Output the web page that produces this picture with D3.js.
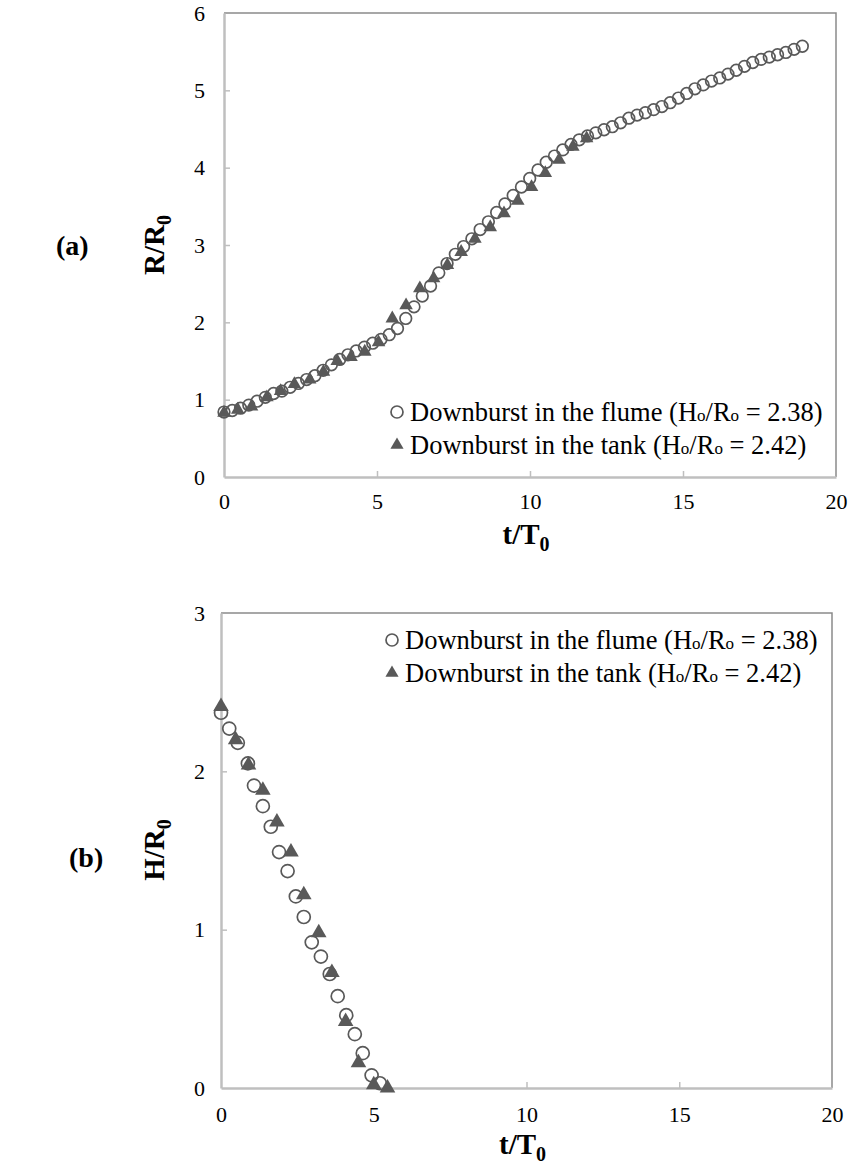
<!DOCTYPE html>
<html>
<head>
<meta charset="utf-8">
<script src="https://cdn.jsdelivr.net/npm/d3@7/dist/d3.min.js"></script>
<style>
  body { margin: 0; background: #fff; }
  svg text { font-family: "Liberation Serif", "Times New Roman", serif; fill: #000; }
</style>
</head>
<body>
<div id="chart"></div>
<script>
// ---- DATA ----

// (a) radius of the front, flume run
const flumeT = [0, 0.27, 0.54, 0.81, 1.08, 1.35, 1.62, 1.89, 2.16, 2.43, 2.70, 2.97, 3.24, 3.51, 3.78,
  4.05, 4.32, 4.59, 4.86, 5.13, 5.40, 5.67, 5.94, 6.21, 6.48, 6.75, 7.02, 7.29, 7.56, 7.83, 8.10,
  8.37, 8.64, 8.91, 9.18, 9.45, 9.72, 9.99, 10.26, 10.53, 10.80, 11.07, 11.34, 11.61, 11.88, 12.15,
  12.42, 12.69, 12.96, 13.23, 13.50, 13.77, 14.04, 14.31, 14.58, 14.85, 15.12, 15.39, 15.66, 15.93,
  16.20, 16.47, 16.74, 17.01, 17.28, 17.55, 17.82, 18.09, 18.36, 18.63, 18.90];
const flumeR = [0.84, 0.86, 0.89, 0.93, 0.98, 1.03, 1.08, 1.11, 1.16, 1.21, 1.26, 1.31, 1.38, 1.45, 1.52,
  1.58, 1.63, 1.68, 1.73, 1.78, 1.84, 1.92, 2.05, 2.20, 2.34, 2.47, 2.64, 2.76, 2.88, 2.98, 3.08,
  3.20, 3.30, 3.42, 3.53, 3.64, 3.75, 3.86, 3.97, 4.07, 4.15, 4.23, 4.30, 4.36, 4.41, 4.45,
  4.49, 4.53, 4.58, 4.64, 4.68, 4.71, 4.75, 4.79, 4.84, 4.90, 4.96, 5.02, 5.07, 5.12,
  5.16, 5.21, 5.26, 5.31, 5.36, 5.40, 5.43, 5.46, 5.49, 5.53, 5.57];

// (a) radius of the front, tank run
const tankT = [0, 0.45, 0.9, 1.4, 1.85, 2.3, 2.8, 3.25, 3.7, 4.15, 4.6, 5.05, 5.5, 5.95,
  6.4, 6.85, 7.3, 7.75, 8.2, 8.7, 9.15, 9.6, 10.05, 10.5, 10.95, 11.4, 11.85];
const tankR = [0.83, 0.87, 0.91, 1.03, 1.11, 1.20, 1.26, 1.36, 1.50, 1.55, 1.62, 1.74, 2.05, 2.22,
  2.44, 2.57, 2.74, 2.91, 3.08, 3.23, 3.41, 3.57, 3.75, 3.93, 4.10, 4.27, 4.38];

// (b) height of the front
const flumeHT = [0, 0.27, 0.55, 0.88, 1.08, 1.37, 1.63, 1.9, 2.18, 2.45, 2.71, 2.97, 3.27, 3.56,
  3.82, 4.1, 4.38, 4.64, 4.93, 5.2];
const flumeH = [2.37, 2.27, 2.18, 2.05, 1.91, 1.78, 1.65, 1.49, 1.37, 1.21, 1.08, 0.92, 0.83, 0.72,
  0.58, 0.46, 0.34, 0.22, 0.08, 0.03];
const tankHT = [0, 0.48, 0.9, 1.37, 1.83, 2.29, 2.71, 3.2, 3.63, 4.08, 4.5, 5.0, 5.45];
const tankH = [2.41, 2.2, 2.04, 1.88, 1.68, 1.49, 1.22, 0.98, 0.73, 0.42, 0.16, 0.02, 0.0];

const xTicks = [0, 5, 10, 15, 20];
const yTicksA = [0, 1, 2, 3, 4, 5, 6];
const yTicksB = [0, 1, 2, 3];
const legendNames = ['Downburst in the flume', 'Downburst in the tank'];
const legendRatios = ['2.38', '2.42'];

// ---- SVG ----
const svg = d3.select('#chart')
  .append('svg')
  .attr('width', 851)
  .attr('height', 1164);

const markColor = '#595959';

function zip(a, b) { return a.map((v, i) => ({ x: v, y: b[i] })); }

// one panel: frame, axes, points, labels
function drawPanel(opt) {
  const x = d3.scaleLinear().domain([0, 20]).range([opt.left, opt.right]);
  const y = d3.scaleLinear().domain([0, opt.ymax]).range([opt.bottom, opt.top]);
  const g = svg.append('g');

  // top + right border (darker)
  g.append('path')
    .attr('d', `M${opt.left},${opt.top}H${opt.right}V${opt.bottom}`)
    .attr('fill', 'none')
    .attr('stroke', '#8a8a8a')
    .attr('stroke-width', 1.5);

  // x axis
  const xa = g.append('g')
    .attr('transform', `translate(0,${opt.bottom})`)
    .call(d3.axisBottom(x).tickValues(xTicks).tickSizeInner(-6).tickSizeOuter(0).tickPadding(opt.xpad));
  // y axis
  const ya = g.append('g')
    .attr('transform', `translate(${opt.left},0)`)
    .call(d3.axisLeft(y).tickValues(opt.yTicks).tickFormat(d3.format('d'))
      .tickSizeInner(-6).tickSizeOuter(0).tickPadding(opt.ypad));

  [xa, ya].forEach(a => {
    a.select('.domain').attr('stroke', '#bfbfbf').attr('stroke-width', 2.5);
    a.selectAll('.tick line').attr('stroke', '#bfbfbf').attr('stroke-width', 1.5);
    a.selectAll('.tick text').style('font-size', '22px').style('font-family', '"Liberation Serif", serif');
  });
  // no tick mark at the corners
  xa.selectAll('.tick line').filter(d => d === 0 || d === 20).remove();
  ya.selectAll('.tick line').filter(d => d === 0 || d === opt.ymax).remove();

  // points: circles first, triangles on top
  g.append('g').selectAll('circle')
    .data(zip(opt.cT, opt.cV))
    .enter().append('circle')
    .attr('cx', d => x(d.x))
    .attr('cy', d => y(d.y))
    .attr('r', opt.r)
    .attr('fill', 'none')
    .attr('stroke', markColor)
    .attr('stroke-width', 1.7);

  const tri = d3.symbol().type(d3.symbolTriangle).size(opt.triSize);
  g.append('g').selectAll('path')
    .data(zip(opt.tT, opt.tV))
    .enter().append('path')
    .attr('d', tri)
    .attr('transform', d => `translate(${x(d.x)},${y(d.y)})`)
    .attr('fill', markColor);

  // legend
  const legTri = d3.symbol().type(d3.symbolTriangle).size(75);
  const lg = g.append('g').attr('transform', `translate(${opt.legX},${opt.legY})`);
  legendNames.forEach((name, i) => {
    const row = lg.append('g').attr('transform', `translate(0,${i * 33})`);
    if (i === 0) {
      row.append('circle').attr('r', 6).attr('fill', 'none')
        .attr('stroke', markColor).attr('stroke-width', 1.7);
    } else {
      row.append('path').attr('d', legTri).attr('fill', markColor);
    }
    const t = row.append('text')
      .attr('x', 13)
      .attr('y', 9)
      .style('font-size', '26.5px');
    t.append('tspan').text(name + ' (H');
    t.append('tspan').style('font-size', '17px').text('o');
    t.append('tspan').text('/R');
    t.append('tspan').style('font-size', '17px').text('o');
    t.append('tspan').text(' = ' + legendRatios[i] + ')');
  });

  // axis titles
  const xt = g.append('text')
    .attr('x', (opt.left + opt.right) / 2 - 4)
    .attr('y', opt.xtY)
    .attr('text-anchor', 'middle')
    .style('font-size', '29px')
    .style('font-weight', 'bold');
  xt.append('tspan').text('t/T');
  xt.append('tspan').attr('dy', 7).style('font-size', '20px').text('0');

  const yt = g.append('text')
    .attr('transform', `translate(${opt.ytX},${opt.ytY})rotate(-90)`)
    .attr('text-anchor', 'middle')
    .style('font-size', '29px')
    .style('font-weight', 'bold');
  yt.append('tspan').text(opt.yName + '/R');
  yt.append('tspan').attr('dy', 7).style('font-size', '20px').text('0');

  g.append('text')
    .attr('x', opt.tagX)
    .attr('y', opt.tagY)
    .style('font-size', '28px')
    .style('font-weight', 'bold')
    .text(opt.tag);
}

drawPanel({
  left: 224, right: 836, top: 13, bottom: 477, ymax: 6, yTicks: yTicksA, xpad: 16, ypad: 19,
  cT: flumeT, cV: flumeR, tT: tankT, tV: tankR, r: 5.8, triSize: 80,
  legX: 397, legY: 412, xtY: 544, ytX: 164, ytY: 245, yName: 'R',
  tag: '(a)', tagX: 56, tagY: 255
});

drawPanel({
  left: 221, right: 832, top: 613, bottom: 1088, ymax: 3, yTicks: yTicksB, xpad: 18, ypad: 16,
  cT: flumeHT, cV: flumeH, tT: tankHT, tV: tankH, r: 6.5, triSize: 105,
  legX: 392, legY: 640, xtY: 1154, ytX: 164, ytY: 850, yName: 'H',
  tag: '(b)', tagX: 69, tagY: 867
});
</script>
</body>
</html>
